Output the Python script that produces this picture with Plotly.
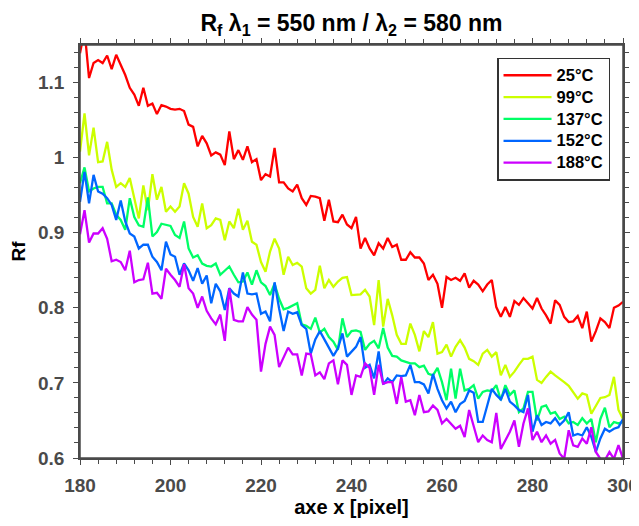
import plotly.graph_objects as go

x_pixel = list(range(180, 301))

rf_25 = [1.139, 1.17, 1.106, 1.126, 1.13, 1.126, 1.136, 1.118, 1.137, 1.124, 1.11, 1.093, 1.084, 1.069, 1.093, 1.069, 1.072, 1.058, 1.07, 1.068, 1.065, 1.064, 1.065, 1.062, 1.044, 1.041, 1.015, 1.029, 1.019, 1.003, 1.007,
         1.004, 0.99, 1.035, 0.998, 1.01, 0.997, 1.015, 0.994, 0.998, 0.97, 0.978, 0.975, 1.013, 0.967, 0.967, 0.959, 0.955, 0.964, 0.946, 0.937, 0.949, 0.948, 0.946, 0.916, 0.944, 0.915, 0.914, 0.924, 0.911,
         0.906, 0.921, 0.879, 0.893, 0.879, 0.87, 0.886, 0.879, 0.893, 0.881, 0.884, 0.864, 0.864, 0.874, 0.867, 0.867, 0.859, 0.837, 0.844, 0.832, 0.8, 0.841, 0.837, 0.84, 0.836, 0.846, 0.827, 0.836, 0.831, 0.822,
         0.831, 0.837, 0.801, 0.788, 0.801, 0.788, 0.809, 0.804, 0.813, 0.806, 0.799, 0.813, 0.799, 0.79, 0.779, 0.81, 0.804, 0.788, 0.781, 0.782, 0.789, 0.773, 0.795, 0.755, 0.769, 0.786, 0.781, 0.773, 0.8, 0.803, 0.808]

rf_99 = [1.008, 1.059, 1.003, 1.04, 0.994, 0.995, 1.021, 0.984, 0.961, 0.966, 0.961, 0.973, 0.946, 0.919, 0.963, 0.93, 0.978, 0.944, 0.961, 0.928, 0.935, 0.928, 0.935, 0.966, 0.952, 0.921, 0.908, 0.939, 0.906, 0.91, 0.919,
         0.917, 0.89, 0.915, 0.906, 0.932, 0.904, 0.916, 0.888, 0.884, 0.861, 0.848, 0.875, 0.892, 0.879, 0.844, 0.868, 0.857, 0.86, 0.855, 0.826, 0.819, 0.824, 0.856, 0.826, 0.837, 0.828, 0.835, 0.84, 0.841,
         0.817, 0.818, 0.818, 0.824, 0.815, 0.777, 0.837, 0.775, 0.812, 0.79, 0.764, 0.752, 0.752, 0.779, 0.764, 0.742, 0.769, 0.761, 0.781, 0.739, 0.741, 0.751, 0.735, 0.748, 0.757, 0.747, 0.732, 0.729, 0.724, 0.739,
         0.744, 0.735, 0.741, 0.71, 0.724, 0.708, 0.715, 0.724, 0.732, 0.732, 0.735, 0.704, 0.7, 0.708, 0.715, 0.71, 0.706, 0.701, 0.696, 0.688, 0.679, 0.686, 0.684, 0.659, 0.67, 0.68, 0.681, 0.684, 0.708, 0.664, 0.652]

rf_137 = [0.966, 0.987, 0.955, 0.959, 0.961, 0.961, 0.939, 0.939, 0.924, 0.917, 0.904, 0.946, 0.921, 0.91, 0.908, 0.947, 0.895, 0.901, 0.912, 0.911, 0.909, 0.897, 0.893, 0.915, 0.879, 0.867, 0.87, 0.859, 0.856, 0.855, 0.859,
          0.844, 0.85, 0.855, 0.844, 0.834, 0.835, 0.847, 0.831, 0.85, 0.834, 0.829, 0.817, 0.832, 0.812, 0.798, 0.8, 0.803, 0.806, 0.778, 0.776, 0.772, 0.787, 0.767, 0.772, 0.761, 0.755, 0.744, 0.786, 0.761,
          0.769, 0.77, 0.768, 0.744, 0.752, 0.756, 0.746, 0.773, 0.747, 0.736, 0.735, 0.73, 0.728, 0.726, 0.726, 0.721, 0.723, 0.712, 0.71, 0.72, 0.701, 0.677, 0.719, 0.679, 0.719, 0.69, 0.692, 0.697, 0.679, 0.688,
          0.69, 0.689, 0.697, 0.677, 0.697, 0.684, 0.69, 0.661, 0.666, 0.688, 0.688, 0.65, 0.668, 0.67, 0.659, 0.661, 0.652, 0.655, 0.646, 0.648, 0.644, 0.653, 0.646, 0.652, 0.621, 0.652, 0.667, 0.641, 0.648, 0.646, 0.648]

rf_152 = [0.941, 0.981, 0.939, 0.977, 0.955, 0.952, 0.946, 0.937, 0.917, 0.943, 0.915, 0.899, 0.895, 0.879, 0.884, 0.884, 0.868, 0.861, 0.85, 0.888, 0.871, 0.868, 0.844, 0.859, 0.85, 0.836, 0.853, 0.832, 0.843, 0.806, 0.832,
          0.822, 0.797, 0.826, 0.819, 0.815, 0.847, 0.819, 0.818, 0.819, 0.792, 0.795, 0.782, 0.834, 0.799, 0.769, 0.795, 0.792, 0.794, 0.777, 0.772, 0.739, 0.758, 0.769, 0.758, 0.746, 0.736, 0.746, 0.766, 0.735,
          0.741, 0.748, 0.761, 0.72, 0.724, 0.706, 0.742, 0.698, 0.706, 0.701, 0.71, 0.709, 0.71, 0.724, 0.701, 0.701, 0.698, 0.686, 0.712, 0.692, 0.677, 0.666, 0.675, 0.661, 0.672, 0.676, 0.69, 0.687, 0.648, 0.648,
          0.67, 0.692, 0.684, 0.678, 0.692, 0.675, 0.67, 0.664, 0.661, 0.684, 0.635, 0.657, 0.644, 0.648, 0.646, 0.653, 0.644, 0.65, 0.661, 0.63, 0.632, 0.63, 0.641, 0.628, 0.608, 0.626, 0.639, 0.635, 0.639, 0.641, 0.652]

rf_188 = [0.898, 0.93, 0.887, 0.899, 0.899, 0.906, 0.892, 0.862, 0.864, 0.861, 0.85, 0.876, 0.834, 0.837, 0.838, 0.86, 0.819, 0.82, 0.812, 0.852, 0.844, 0.837, 0.828, 0.858, 0.826, 0.819, 0.8, 0.815, 0.796, 0.786, 0.778,
          0.791, 0.756, 0.826, 0.784, 0.782, 0.782, 0.801, 0.791, 0.784, 0.715, 0.752, 0.775, 0.764, 0.721, 0.735, 0.747, 0.738, 0.738, 0.71, 0.739, 0.738, 0.71, 0.714, 0.705, 0.726, 0.73, 0.698, 0.73, 0.724,
          0.684, 0.71, 0.708, 0.726, 0.72, 0.684, 0.724, 0.699, 0.701, 0.701, 0.672, 0.708, 0.675, 0.677, 0.657, 0.684, 0.661, 0.662, 0.67, 0.664, 0.646, 0.652, 0.646, 0.639, 0.643, 0.628, 0.664, 0.644, 0.621, 0.63,
          0.624, 0.621, 0.66, 0.612, 0.624, 0.635, 0.65, 0.615, 0.646, 0.666, 0.624, 0.635, 0.621, 0.63, 0.619, 0.624, 0.606, 0.599, 0.637, 0.617, 0.615, 0.626, 0.619, 0.641, 0.608, 0.599, 0.597, 0.608, 0.599, 0.617, 0.599]

series_names = ["25°C", "99°C", "137°C", "152°C", "188°C"]
series_values = [rf_25, rf_99, rf_137, rf_152, rf_188]
series_colors = ["rgb(255,0,0)", "rgb(204,255,0)", "rgb(0,255,102)", "rgb(0,102,255)", "rgb(204,0,255)"]

y_tickvals = [0.6, 0.7, 0.8, 0.9, 1.0, 1.1]
y_ticktext = ["0.6", "0.7", "0.8", "0.9", "1", "1.1"]
x_tickvals = [180, 200, 220, 240, 260, 280, 300]

FONT = "Liberation Sans, Arial, sans-serif"
AXC = "#4a4a4a"

# The page has an 8px body margin, so the figure is 16px smaller than the window.
W, H = 623, 510

fig = go.Figure()
for name, vals, col in zip(series_names, series_values, series_colors):
    fig.add_trace(go.Scatter(x=x_pixel, y=vals, mode="lines",
                             name='<span style="font-size:16.5px">' + name + '</span>',
                             line=dict(color=col, width=2.3)))

axis_common = dict(
    showline=True, linecolor=AXC, linewidth=1.5, mirror="allticks",
    ticks="outside", ticklen=5, tickwidth=1.3, tickcolor=AXC,
    showgrid=False, zeroline=False, automargin=False,
    tickfont=dict(family=FONT, size=19, color=AXC, weight="bold"),
    ticklabeloverflow="allow",
)

fig.update_layout(
    width=W, height=H,
    paper_bgcolor="white", plot_bgcolor="white",
    margin=dict(l=72, r=8, t=37, b=60),
    title=dict(text="<b>R<sub>f</sub> λ<sub>1</sub> = 550 nm / λ<sub>2</sub> = 580 nm</b>",
               x=0.5, xref="paper", xanchor="center",
               y=1 - 15 / H, yref="container", yanchor="middle",
               font=dict(family=FONT, size=23, color="black")),
    xaxis=dict(range=[180, 300], tickvals=x_tickvals,
               minor=dict(dtick=4, tick0=180, ticks="outside", ticklen=4, tickcolor=AXC, tickwidth=1.3),
               ticklabelstandoff=4,
               title=dict(text="<b>axe x [pixel]</b>", standoff=23,
                          font=dict(family=FONT, size=20, color="black")),
               **axis_common),
    yaxis=dict(range=[0.6, 1.15], tickvals=y_tickvals, ticktext=y_ticktext,
               minor=dict(dtick=0.02, tick0=0.6, ticks="outside", ticklen=4, tickcolor=AXC, tickwidth=1.3),
               ticklabelstandoff=5,
               title=dict(text="<b>Rf</b>", standoff=13,
                          font=dict(family=FONT, size=19, color="black")),
               **axis_common),
    legend=dict(x=0.768, y=0.969, xanchor="left", yanchor="top",
                bgcolor="white", bordercolor="#333333", borderwidth=1.5,
                font=dict(family=FONT, size=14.5, color="black", weight="bold"),
                tracegroupgap=0, itemwidth=48),
    showlegend=True,
    shapes=[dict(type="rect", xref="paper", yref="paper", x0=0, x1=1, y0=0, y1=1,
                 line=dict(color=AXC, width=1.5), fillcolor="rgba(0,0,0,0)", layer="above")],
)

fig.write_html("out.html")
